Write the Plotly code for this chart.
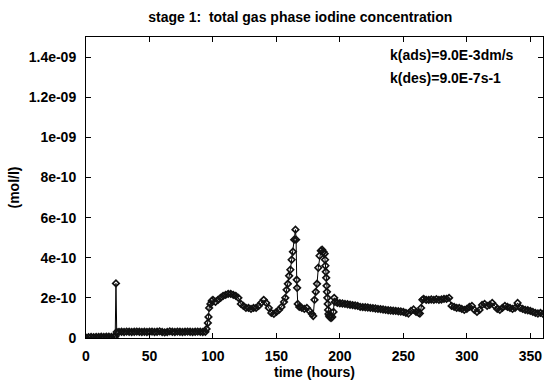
import plotly.graph_objects as go

# time (hours) and total gas phase iodine concentration (units of 1e-10 mol/l)
hours = [
    0, 2, 4, 6, 8, 10, 12, 14, 16, 18, 20, 22, 23, 23.6, 24.2,
    26, 28, 30, 32, 34, 36, 38, 40, 42, 44, 46, 48, 50, 52, 54, 56, 58, 60,
    62, 64, 66, 68, 70, 72, 74, 76, 78, 80, 82, 84, 86, 88, 90, 92, 94,
    95, 96, 96.5, 97, 98, 99, 100, 102, 104, 106, 108, 110, 112, 114, 116,
    118, 120, 122, 124, 126, 128, 130, 132, 134, 136, 138, 140, 142, 144,
    146, 148, 150, 152, 154, 156, 157, 158, 159, 160, 161, 162, 163, 164,
    165, 165.5, 166, 166.3, 166.8, 168, 170, 172, 174, 176, 178, 179, 180,
    181, 182, 183, 184, 185, 186, 187, 188, 188.3, 188.6, 188.9, 189.2,
    189.5, 189.8, 190.1, 190.4, 190.7, 191, 191.5, 192, 193, 194, 195,
    195.5, 196, 198, 200, 202, 204, 206, 208, 210, 212, 214, 216, 218, 220,
    222, 224, 226, 228, 230, 232, 234, 236, 238, 240, 242, 244, 246, 248,
    250, 252, 254, 256, 258, 260, 262, 263, 264, 265, 266, 268, 270, 272,
    274, 276, 278, 280, 282, 284, 286, 288, 290, 292, 294, 296, 298, 300,
    302, 304, 306, 308, 310, 312, 314, 316, 318, 320, 322, 324, 326, 328,
    330, 332, 334, 336, 338, 340, 342, 344, 346, 348, 350, 352, 354, 356,
    358, 360,
]
conc_e10 = [
    0.02, 0.04, 0.05, 0.04, 0.05, 0.05, 0.06, 0.05, 0.06, 0.06, 0.05, 0.06, 0.07, 2.72, 0.30,
    0.30, 0.31, 0.30, 0.32, 0.31, 0.30, 0.31, 0.32, 0.31, 0.30, 0.31, 0.30, 0.31, 0.32, 0.30, 0.31, 0.33, 0.30,
    0.28, 0.30, 0.33, 0.31, 0.30, 0.32, 0.31, 0.30, 0.31, 0.32, 0.31, 0.30, 0.31, 0.32, 0.31, 0.30, 0.31,
    0.45, 0.75, 1.05, 1.5, 1.7, 1.85, 1.9, 1.8, 1.9, 2.0, 2.1, 2.15, 2.2, 2.2, 2.15,
    2.1, 2.0, 1.7, 1.6, 1.5, 1.5, 1.45, 1.5, 1.5, 1.6, 1.75, 1.9, 1.75, 1.5,
    1.25, 1.2, 1.3, 1.4, 1.55, 1.8, 2.0, 2.4, 2.7, 3.1, 3.4, 3.9, 4.3, 4.9,
    5.4, 4.9, 2.9, 2.5, 1.7, 1.55, 1.5, 1.45, 1.5, 1.35, 1.2, 1.1, 1.9,
    2.3, 2.7, 3.5, 4.1, 4.35, 4.4, 4.3, 4.2, 3.9, 3.6, 3.3, 3.0,
    2.6, 2.3, 2.0, 1.7, 1.4, 1.2, 1.1, 1.05, 1.0, 1.05, 1.3,
    2.0, 1.8, 1.75, 1.73, 1.72, 1.7, 1.68, 1.66, 1.64, 1.62, 1.6, 1.55, 1.54, 1.53,
    1.52, 1.5, 1.49, 1.47, 1.45, 1.44, 1.42, 1.4, 1.38, 1.37, 1.36, 1.35, 1.33, 1.32,
    1.3, 1.25, 1.22, 1.35, 1.42, 1.3, 1.25, 1.22, 1.5, 1.9, 1.95, 1.9, 1.9, 1.92,
    1.9, 1.93, 1.9, 1.92, 1.95, 1.95, 2.0, 1.6, 1.55, 1.5, 1.5, 1.45, 1.4, 1.45,
    1.55, 1.6, 1.4, 1.3, 1.4, 1.65, 1.7, 1.6, 1.65, 1.75, 1.6, 1.45, 1.4, 1.5,
    1.6, 1.55, 1.5, 1.45, 1.5, 1.75, 1.5, 1.45, 1.4, 1.38, 1.35, 1.3, 1.25, 1.22,
    1.25, 1.2,
]
conc = [v * 1e-10 for v in conc_e10]

ytick_vals = [0, 2e-10, 4e-10, 6e-10, 8e-10, 1e-9, 1.2e-9, 1.4e-9]
ytick_text = ["0", "2e-10", "4e-10", "6e-10", "8e-10", "1e-09", "1.2e-09", "1.4e-09"]
xtick_vals = [0, 50, 100, 150, 200, 250, 300, 350]
xtick_text = ["0", "50", "100", "150", "200", "250", "300", "350"]

title_text = "stage 1:  total gas phase iodine concentration"
ann_lines = ["k(ads)=9.0E-3dm/s", "k(des)=9.0E-7s-1"]

FONT = "Liberation Sans, Arial, sans-serif"

fig = go.Figure()
fig.add_trace(go.Scatter(
    x=hours, y=conc, mode="lines+markers",
    line=dict(color="#000000", width=1),
    marker=dict(symbol="diamond-open", size=5, color="#111111", line=dict(width=1.7)),
    showlegend=False,
))

axis_common = dict(
    showline=True, linecolor="#000000", linewidth=1, mirror="ticks",
    ticks="inside", ticklen=5, tickcolor="#000000", tickwidth=1,
    showgrid=False, zeroline=False,
    tickfont=dict(family=FONT, size=14, color="#000000", weight="bold"),
)

fig.update_layout(
    width=544, height=383,
    margin=dict(l=86, r=1, t=37, b=45),
    paper_bgcolor="white", plot_bgcolor="white",
    title=dict(text="<b>" + title_text + "</b>", x=0.552, xanchor="center",
               y=0.955, yanchor="middle",
               font=dict(family=FONT, size=14, color="#000000")),
    xaxis=dict(range=[0, 360], tickvals=xtick_vals, ticktext=xtick_text,
               ticklabelstandoff=5,
               title=dict(text="<b>time (hours)</b>", standoff=3,
                          font=dict(family=FONT, size=14, color="#000000")),
               **axis_common),
    yaxis=dict(range=[0, 1.5e-9], tickvals=ytick_vals, ticktext=ytick_text,
               ticklabelstandoff=6,
               title=dict(text="<b>(mol/l)</b>", standoff=5,
                          font=dict(family=FONT, size=14, color="#000000")),
               **axis_common),
)

for i, t in enumerate(ann_lines):
    fig.add_annotation(
        text="<b>" + t + "</b>", xref="paper", yref="paper",
        x=(388 - 86) / 457, y=1 - (55 + 23 * i - 37) / 301,
        xanchor="left", yanchor="middle", showarrow=False,
        font=dict(family=FONT, size=14, color="#000000"),
    )

fig.write_html("out.html")
